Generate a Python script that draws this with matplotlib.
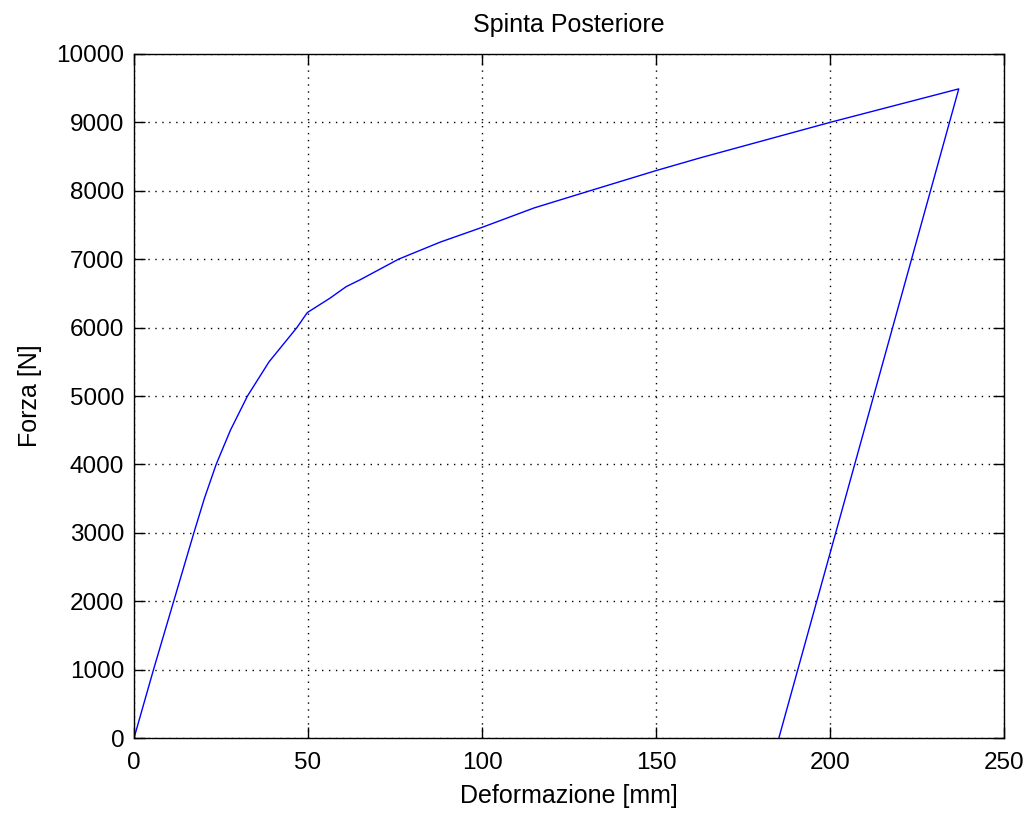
import numpy as np
import matplotlib.pyplot as plt

# load curve (deformation mm, force N)
defo = [0, 5.6, 11.4, 17.2, 20.2, 23.6, 27.7, 32.6, 38.8, 46.8, 49.8, 56.3, 61.0,
        65.0, 76.0, 88.0, 100.0, 115.0, 131.0, 150.0, 162.6, 200.0, 237.0, 185.3]
forza = [0, 1000, 2000, 3000, 3500, 4000, 4500, 5000, 5500, 6000, 6220, 6430, 6600,
         6700, 7000, 7250, 7465, 7750, 8000, 8295, 8480, 9000, 9490, 0]

xticks = [0, 50, 100, 150, 200, 250]
yticks = list(range(0, 10001, 1000))

plt.rcParams['font.family'] = ['Liberation Sans', 'DejaVu Sans']

fig = plt.figure(figsize=(10.27, 8.13), dpi=100)
ax = fig.add_axes([0.1305, 0.0922, 0.8471, 0.8414])

ax.plot(defo, forza, color='#0000ff', linewidth=1.0)

ax.set_xlim(0, 250)
ax.set_ylim(0, 10000)
ax.set_xticks(xticks)
ax.set_yticks(yticks)
ax.tick_params(direction='in', length=8, width=1, top=True, right=True,
               labelsize=17.5, colors='black')
ax.tick_params(axis='x', pad=10)
ax.tick_params(axis='y', pad=7)
ax.grid(True, linestyle=(0, (1, 4)), color='black', linewidth=1)
for s in ax.spines.values():
    s.set_linewidth(1)

ax.set_title("Spinta Posteriore", fontsize=18, pad=16)
ax.set_xlabel("Deformazione [mm]", fontsize=18, labelpad=7)
ax.set_ylabel("Forza [N]", fontsize=18, labelpad=10)

fig.savefig("out.png", dpi=100)
